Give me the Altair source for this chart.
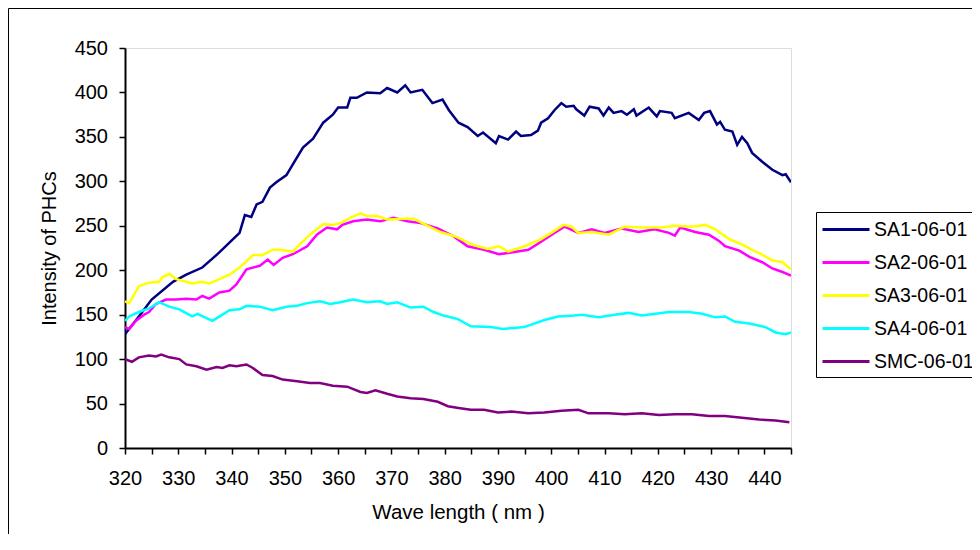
import altair as alt
import pandas as pd

series_names = ["SA1-06-01", "SA2-06-01", "SA3-06-01", "SA4-06-01", "SMC-06-01"]
series_colors = ["#000080", "#FF00FF", "#FFFF00", "#00FFFF", "#800080"]

sa1_nm = [320, 322.6, 325, 329, 331.5, 334.5, 336.4, 337.7, 339.6, 341.5, 342.5, 343.7, 344.7, 345.8,
          347.2, 348.4, 350.3, 351.5, 353.4, 355.3, 357.2, 359, 360, 361.7, 362.3, 363.5, 365.4, 367.9,
          369.2, 371.1, 372.6, 373.6, 375.8, 377.7, 379.6, 380.8, 382.6, 384.3, 386.2, 387.2, 389.6,
          390.2, 391.9, 393.4, 394.3, 396.2, 397.5, 398.1, 399.4, 400.6, 401.9, 402.8, 404.2, 404.7,
          406.2, 407.2, 408.9, 409.8, 410.8, 411.7, 413.2, 414.2, 415.5, 416, 418.3, 419.8, 420.4,
          422.6, 423.2, 425.8, 427.7, 428.7, 429.8, 431.1, 431.7, 432.6, 434, 434.9, 435.8, 436.8,
          437.7, 439.6, 441.5, 443.4, 444, 445]
sa1_val = [128, 148, 167, 187, 195, 203, 213, 220, 231, 242, 262, 260, 274, 277,
           293, 299, 307, 319, 338, 348, 366, 375, 383, 383, 394, 394, 400, 399,
           405, 400, 408, 400, 403, 388, 392, 380, 366, 361, 351, 355, 343,
           351, 347, 356, 351, 352, 357, 366, 371, 380, 388, 384, 385, 381,
           374, 384, 382, 374, 383, 377, 379, 375, 381, 374, 383, 373, 379,
           377, 371, 377, 369, 377, 379, 364, 367, 358, 356, 341, 350, 343,
           332, 322, 313, 307, 308, 299]

sa2_nm = [320, 320.8, 322, 323.6, 324.5, 325.8, 327.7, 329.6, 331.5, 333.4, 334.5, 335.8, 337.7,
          339.6, 340.9, 342.8, 345.3, 346.8, 347.9, 349.6, 351.5, 354.2, 356, 357.9, 359.8, 360.8,
          362.8, 365.4, 367.9, 370.4, 373, 375.5, 378.7, 381.7, 384.3, 387.4, 390.2, 392.5, 395.7,
          398.1, 400.6, 402.5, 405.1, 407.6, 410, 413.2, 416.4, 419.4, 422.1, 423.2, 424.2, 427,
          429.6, 431.5, 432.6, 435.3, 437.2, 439.6, 441.5, 443.4, 445]
sa2_val = [136, 134, 143, 150, 153, 162, 167, 167, 168, 167, 171, 168, 175,
           177, 184, 201, 205, 212, 206, 214, 218, 227, 240, 248, 246, 251,
           255, 257, 255, 259, 255, 253, 247, 238, 227, 223, 218, 220, 223,
           232, 242, 249, 242, 246, 242, 247, 243, 246, 242, 239, 248, 243,
           240, 233, 227, 222, 215, 209, 202, 198, 194]

sa3_nm = [320, 320.8, 322.6, 324.5, 326.4, 327, 328.3, 329.6, 331.5, 332.6, 334.5, 335.8, 337.7,
          339.6, 341.5, 342.8, 344, 345.8, 346.8, 347.7, 349, 351.5, 352.8, 354.7, 356, 357.2, 359,
          360.4, 362.3, 364.2, 365.4, 367.4, 369.2, 372.3, 374.2, 376.8, 379.2, 382, 385.5, 388.1,
          390.2, 391.9, 395, 398.1, 400, 402.3, 403.8, 405.1, 407.6, 410.8, 413.8, 417, 420.8,
          423.2, 426.4, 428.9, 430.8, 433.4, 435.8, 437.7, 439.4, 441.5, 443.4, 445]
sa3_val = [165, 163, 182, 186, 187, 192, 196, 190, 187, 185, 187, 185, 190,
           195, 203, 210, 217, 217, 220, 223, 223, 221, 229, 240, 246, 252, 251,
           253, 259, 264, 261, 261, 257, 258, 258, 250, 243, 238, 228, 224,
           227, 221, 227, 235, 242, 251, 249, 242, 243, 240, 249, 248, 248,
           250, 249, 251, 246, 235, 229, 223, 218, 211, 209, 201]

sa4_nm = [320, 320.8, 322.6, 324.5, 326.4, 328.3, 330.2, 332.6, 333.6, 335.3, 336.4, 338.3, 339.6,
          341.5, 342.8, 345.3, 347.7, 350.3, 352.3, 354.2, 356.6, 358.5, 360.4, 362.8, 365.4, 367.9,
          369.2, 371.1, 373.6, 376, 377.9, 379.8, 382.5, 384.9, 388.7, 390.9, 394.9, 396.8, 398.7,
          401.3, 404.3, 405.7, 408.9, 411.9, 414.5, 417, 422.1, 425.8, 428.3, 430.8, 432.6, 434.5,
          437.2, 440.2, 442.1, 444, 445]
sa4_val = [143, 148, 153, 157, 164, 159, 156, 148, 151, 146, 143, 150, 155,
           156, 160, 159, 155, 159, 160, 163, 165, 162, 164, 167, 164, 165,
           162, 164, 158, 159, 153, 149, 145, 137, 136, 134, 136, 140, 144,
           148, 149, 150, 147, 150, 152, 149, 153, 153, 151, 147, 148, 142,
           140, 136, 130, 128, 130]

smc_nm = [320, 321.3, 322.6, 324.5, 325.8, 326.8, 328.3, 330.2, 331.5, 333.4, 335.3, 337.2, 338.3,
          339.6, 340.9, 342.8, 344, 345.8, 347.7, 349.6, 352.3, 354.7, 356.6, 359, 361.7, 364.2,
          365.4, 367, 369.2, 371.1, 373.6, 376, 378.7, 380.6, 382.6, 384.9, 387.4, 390, 392.5,
          395.7, 398.7, 401.9, 405.1, 407, 410.8, 413.8, 417, 420.2, 423.2, 426.4, 429.6, 432.6,
          435.8, 439, 442.1, 444.7]
smc_val = [100, 97, 102, 104, 103, 105, 102, 100, 94, 92, 88, 91, 90,
           93, 92, 94, 90, 82, 81, 77, 75, 73, 73, 70, 69, 63,
           62, 65, 61, 58, 56, 55, 52, 47, 45, 43, 43, 40, 41,
           39, 40, 42, 43, 39, 39, 38, 39, 37, 38, 38, 36, 36,
           34, 32, 31, 29]

x_ticks = [320, 325, 330, 335, 340, 345, 350, 355, 360, 365, 370, 375, 380, 385, 390, 395,
           400, 405, 410, 415, 420, 425, 430, 435, 440, 445]
y_ticks = [0, 50, 100, 150, 200, 250, 300, 350, 400, 450]

rows = []
for name, nms, vals in zip(series_names,
                           [sa1_nm, sa2_nm, sa3_nm, sa4_nm, smc_nm],
                           [sa1_val, sa2_val, sa3_val, sa4_val, smc_val]):
    for i, (n, v) in enumerate(zip(nms, vals)):
        rows.append({"series": name, "nm": n, "value": v, "idx": i})
df = pd.DataFrame(rows)

FONT = "Liberation Sans"

lines = alt.Chart(df).mark_line(strokeWidth=2.5, clip=True).encode(
    x=alt.X("nm:Q",
            scale=alt.Scale(domain=[320, 445], nice=False, zero=False),
            axis=alt.Axis(title="Wave length ( nm )", values=x_ticks,
                          labelExpr="datum.value % 10 == 0 ? datum.label : ''",
                          grid=False, tickSize=6, labelPadding=14, titlePadding=14,
                          domainColor="#000000", domainWidth=2, tickColor="#000000",
                          tickWidth=1.5, labelFontSize=20, titleFontSize=20.5,
                          labelFont=FONT, titleFont=FONT, labelColor="#000000",
                          titleColor="#000000", titleFontWeight="normal", labelFlush=False)),
    y=alt.Y("value:Q",
            scale=alt.Scale(domain=[0, 450], nice=False),
            axis=alt.Axis(title="Intensity of PHCs", values=y_ticks, grid=False,
                          tickSize=6, labelPadding=11.5, titlePadding=15,
                          domainColor="#000000", domainWidth=2, tickColor="#000000",
                          tickWidth=1.5, labelFontSize=20, titleFontSize=20,
                          labelFont=FONT, titleFont=FONT, labelColor="#000000",
                          titleColor="#000000", titleFontWeight="normal", labelFlush=False)),
    color=alt.Color("series:N",
                    scale=alt.Scale(domain=series_names, range=series_colors),
                    legend=alt.Legend(title=None, orient="none", legendX=691, legendY=164,
                                      symbolType="M-2.35,0L2.35,0", symbolSize=400,
                                      symbolStrokeWidth=3, symbolOffset=12.5,
                                      labelFontSize=19.5,
                                      labelFont=FONT, labelColor="#000000",
                                      rowPadding=12, padding=6, labelOffset=16.5,
                                      strokeColor="#000000", labelLimit=300)),
    order=alt.Order("idx:Q"),
)

frame = alt.Chart(pd.DataFrame({"a": [0]})).mark_rect(
    fillOpacity=0, stroke="#000000", strokeWidth=1
).encode(
    x=alt.value(-116.5), x2=alt.value(900), y=alt.value(-39.5), y2=alt.value(700)
)

chart = alt.layer(frame, lines).properties(
    width=666, height=400,
    autosize=alt.AutoSizeParams(type="none"),
    padding={"left": 117, "top": 40, "right": 181, "bottom": 86},
).configure_view(
    stroke="#808080", strokeWidth=2
).configure(background="#FFFFFF")

chart.save("out.html", embed_options={"renderer": "svg", "actions": False})
